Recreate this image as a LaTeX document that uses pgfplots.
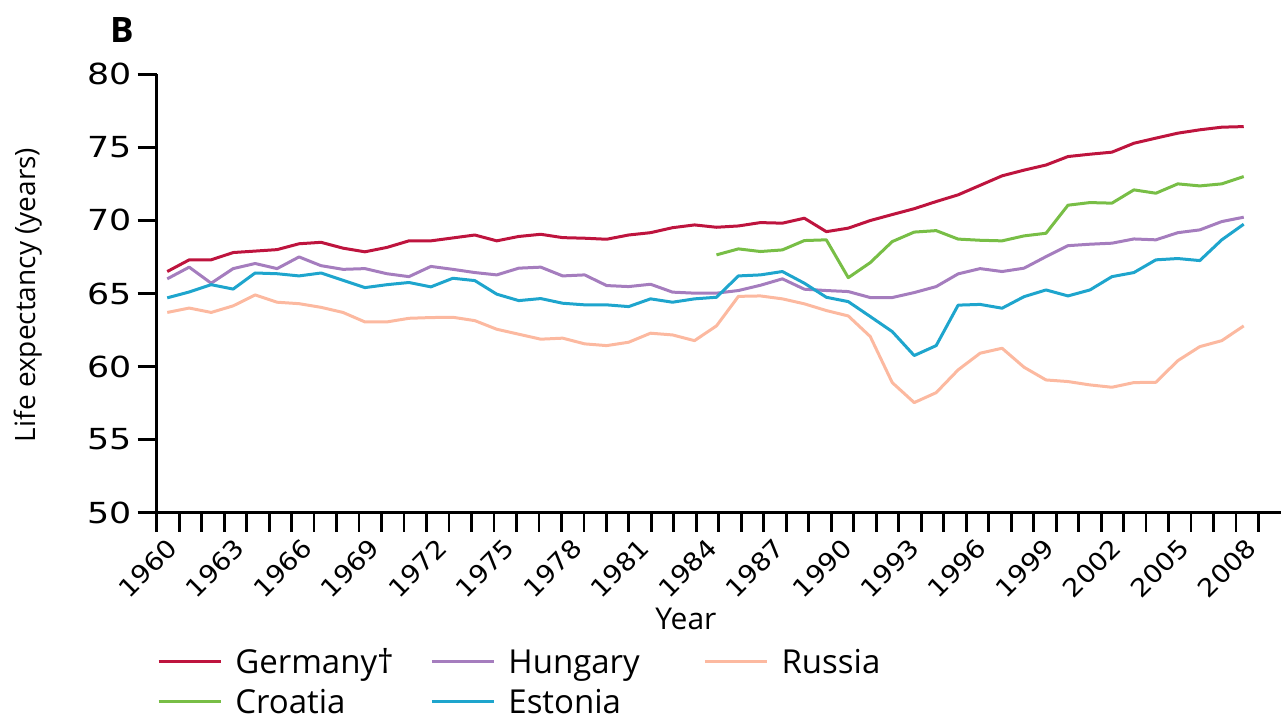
\documentclass[border=0pt]{standalone}
\usepackage{fontspec}
\setmainfont{Open Sans}
\newfontfamily\tickfont{DejaVu Sans}[FakeStretch=1.2]
\newfontfamily\xtickfont{DejaVu Sans}[FakeStretch=1.1]
\usepackage{pgfplots}
\usepackage{pgfplotstable}
\pgfplotsset{compat=1.18}
\definecolor{cger}{RGB}{190,20,62}
\definecolor{chun}{RGB}{165,125,190}
\definecolor{crus}{RGB}{252,185,160}
\definecolor{ccro}{RGB}{120,190,70}
\definecolor{cest}{RGB}{30,165,205}
\pgfplotstableread{
year ger hun rus cro est
1960 66.5 66.0 63.7 nan 64.7
1961 67.3 66.8 64.0 nan 65.1
1962 67.3 65.7 63.7 nan 65.6
1963 67.8 66.7 64.15 nan 65.3
1964 67.9 67.05 64.9 nan 66.4
1965 68.0 66.7 64.4 nan 66.35
1966 68.4 67.5 64.3 nan 66.2
1967 68.5 66.9 64.05 nan 66.4
1968 68.1 66.65 63.7 nan 65.9
1969 67.85 66.7 63.05 nan 65.4
1970 68.15 66.35 63.05 nan 65.6
1971 68.6 66.15 63.3 nan 65.75
1972 68.6 66.85 63.35 nan 65.45
1973 68.8 66.65 63.37 nan 66.04
1974 69.0 66.43 63.14 nan 65.88
1975 68.6 66.27 62.55 nan 64.95
1976 68.9 66.73 62.21 nan 64.51
1977 69.05 66.8 61.87 nan 64.65
1978 68.82 66.2 61.94 nan 64.33
1979 68.78 66.27 61.55 nan 64.22
1980 68.71 65.54 61.43 nan 64.22
1981 69.0 65.47 61.66 nan 64.1
1982 69.16 65.63 62.28 nan 64.63
1983 69.5 65.09 62.16 nan 64.4
1984 69.69 65.02 61.77 nan 64.63
1985 69.53 65.02 62.78 67.64 64.74
1986 69.62 65.2 64.8 68.05 66.2
1987 69.85 65.56 64.83 67.87 66.27
1988 69.81 66.0 64.63 67.98 66.5
1989 70.15 65.29 64.29 68.62 65.7
1990 69.23 65.2 63.83 68.67 64.74
1991 69.47 65.13 63.46 66.08 64.44
1992 69.99 64.72 62.05 67.11 63.42
1993 70.4 64.72 58.9 68.55 62.39
1994 70.8 65.06 57.53 69.2 60.75
1995 71.29 65.47 58.21 69.3 61.43
1996 71.75 66.34 59.77 68.72 64.2
1997 72.4 66.7 60.91 68.64 64.25
1998 73.05 66.5 61.25 68.6 63.99
1999 73.44 66.73 59.95 68.94 64.78
2000 73.79 67.52 59.08 69.12 65.24
2001 74.37 68.27 58.97 71.04 64.83
2002 74.53 68.37 58.74 71.22 65.24
2003 74.67 68.44 58.58 71.18 66.15
2004 75.28 68.73 58.9 72.09 66.43
2005 75.63 68.67 58.92 71.86 67.3
2006 75.97 69.16 60.4 72.5 67.39
2007 76.2 69.35 61.36 72.36 67.25
2008 76.38 69.92 61.77 72.5 68.67
2009 76.42 70.22 62.78 73.0 69.74
}\datatable
\begin{document}
\begin{tikzpicture}
\useasboundingbox (-78.35pt,-104.15pt) rectangle (562.25pt,256.35pt);
\begin{axis}[
  at={(0pt,0pt)}, anchor=south west,
  scale only axis, width=562.25pt, height=219.2pt,
  xmin=1960, xmax=2010, ymin=50, ymax=80,
  axis x line=bottom, axis y line=left,
  axis line style={-, line width=1.4pt, black},
  xtick={1960,1963,...,2008},
  minor xtick={1961,1962,1964,1965,1967,1968,1970,1971,1973,1974,1976,1977,1979,1980,1982,1983,1985,1986,1988,1989,1991,1992,1994,1995,1997,1998,2000,2001,2003,2004,2006,2007,2009},
  ytick={50,55,...,80},
  tick align=outside,
  major tick length=9.5pt, minor tick length=9.5pt,
  every tick/.style={line width=1.4pt, black},
  every minor tick/.style={line width=1.4pt, black},
  /pgf/number format/1000 sep={},
  /pgf/number format/assume math mode=true,
  yticklabel style={font=\tickfont\fontsize{14.5}{16}\selectfont, anchor=east, inner sep=0pt, xshift=-3pt},
  xticklabel style={font=\xtickfont\fontsize{12.5}{14}\selectfont, xshift=8pt, yshift=-5.7pt, rotate=45, anchor=east, inner sep=0pt},
  xlabel={Year},
  xlabel style={at={(axis description cs:0,0)}, anchor=center, xshift=264.65pt, yshift=-53.15pt, font=\fontsize{15}{18}\selectfont},
  legend columns=3,
  legend cell align=left,
  legend image code/.code={\draw[#1, line width=1.6pt] (0pt,0pt) -- (31pt,0pt);},
  legend style={draw=none, fill=none, inner sep=0pt, outer sep=0pt,
    at={(0,0)}, anchor=north west, xshift=0.2pt, yshift=-67.65pt,
    column sep=0pt, row sep=6pt,
    nodes={inner sep=0pt, text height=13pt, text depth=1pt, font=\fontsize{16.5}{19}\selectfont}},
  every axis plot/.append style={line width=1.5pt, line join=round},
  clip=false,
]
\addplot[cger, no markers] table[x expr={1960.47+0.977*(\thisrow{year}-1960)}, y=ger] {\datatable};
\addlegendentry{\hspace{6.5pt}\makebox[97.5pt][l]{Germany†}}
\addplot[chun, no markers] table[x expr={1960.47+0.977*(\thisrow{year}-1960)}, y=hun] {\datatable};
\addlegendentry{\hspace{6.5pt}\makebox[97.5pt][l]{Hungary}}
\addplot[crus, no markers] table[x expr={1960.47+0.977*(\thisrow{year}-1960)}, y=rus] {\datatable};
\addlegendentry{\hspace{6.5pt}\makebox[97.5pt][l]{Russia}}
\addplot[ccro, no markers] table[x expr={1960.47+0.977*(\thisrow{year}-1960)}, y=cro] {\datatable};
\addlegendentry{\hspace{6.5pt}\makebox[97.5pt][l]{Croatia}}
\addplot[cest, no markers] table[x expr={1960.47+0.977*(\thisrow{year}-1960)}, y=est] {\datatable};
\addlegendentry{\hspace{6.5pt}\makebox[97.5pt][l]{Estonia}}
\node[font=\bfseries\fontsize{17.5}{20}\selectfont, anchor=center] at (axis description cs:0,0) [xshift=-17.35pt, yshift=241.35pt] {B};
\node[font=\fontsize{14}{17}\selectfont, rotate=90, anchor=center] at ([xshift=-64.35pt, yshift=108.85pt]axis description cs:0,0) {Life expectancy (years)};
\end{axis}
\end{tikzpicture}
\end{document}
